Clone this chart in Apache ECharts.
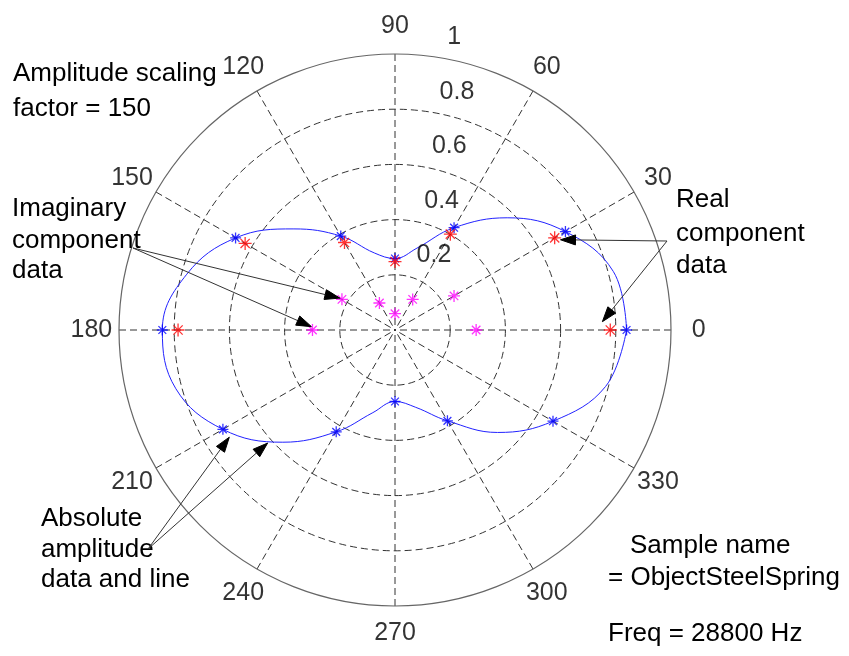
<!DOCTYPE html>
<html>
<head>
<meta charset="utf-8">
<script src="https://cdn.jsdelivr.net/npm/echarts@6/dist/echarts.min.js"></script>
<style>
  html, body { margin: 0; padding: 0; background: #ffffff; }
  #chart { width: 849px; height: 656px; }
</style>
</head>
<body>
<div id="chart"></div>
<script>
// Angles (degrees) at which the amplitude was sampled
const markerAngles = [0, 30, 60, 90, 120, 150, 180, 210, 240, 270, 300, 330];
// Absolute amplitude at each sampled angle
const absValues = [0.839, 0.713, 0.428, 0.259, 0.393, 0.667, 0.843, 0.720, 0.426, 0.259, 0.380, 0.661];
// Real component (upper half only)
const realAngles = [0, 30, 60, 90, 120, 150, 180];
const realValues = [0.780, 0.668, 0.401, 0.248, 0.366, 0.627, 0.786];
// Imaginary component (upper half only)
const imagAngles = [0, 30, 60, 90, 120, 150, 180];
const imagValues = [0.294, 0.247, 0.128, 0.059, 0.113, 0.222, 0.299];
// Fitted amplitude line
const curveAngles = [0, 15, 30, 45, 60, 75, 90, 105, 120, 135, 150, 165, 180,
                     195, 210, 225, 240, 255, 270, 285, 300, 315, 330, 345, 360];
const curveValues = [0.839, 0.819, 0.713, 0.575, 0.428, 0.307, 0.259, 0.289, 0.393, 0.518, 0.667, 0.781, 0.843,
                     0.822, 0.720, 0.575, 0.426, 0.310, 0.259, 0.290, 0.380, 0.525, 0.661, 0.790, 0.839];
// Grid tick labels
const ringTicks = [0.2, 0.4, 0.6, 0.8, 1];
const angleTicks = [0, 30, 60, 90, 120, 150, 180, 210, 240, 270, 300, 330];

const FONT = "'Liberation Sans', Arial, Helvetica, sans-serif";
const FS = 25;
const NOTE_FS = 26;
const ASTERISK = 'path://M5,0L5,10M0,5L10,5M1.46,1.46L8.54,8.54M1.46,8.54L8.54,1.46';

const pairs = (rs, as) => rs.map((r, i) => [r, as[i]]);

function starSeries(name, rs, as, color, size) {
  return {
    name: name,
    type: 'scatter',
    coordinateSystem: 'polar',
    symbol: ASTERISK,
    symbolSize: size,
    itemStyle: { color: color, borderColor: color, borderWidth: 1.3 },
    data: pairs(rs, as),
    z: 4
  };
}

const chart = echarts.init(document.getElementById('chart'), null, { renderer: 'canvas' });

const option = {
  animation: false,
  backgroundColor: '#ffffff',
  polar: { center: [395, 330], radius: 276 },
  angleAxis: {
    type: 'value', min: 0, max: 360, interval: 30,
    startAngle: 0, clockwise: false,
    axisLine: { show: true, lineStyle: { color: '#666666', width: 1.2 } },
    axisTick: { show: false },
    axisLabel: { show: false },
    splitLine: { show: true, lineStyle: { color: '#333333', width: 1, type: [7, 4] } }
  },
  radiusAxis: {
    type: 'value', min: 0, max: 1, interval: 0.2,
    axisLine: { show: false },
    axisTick: { show: false },
    axisLabel: { show: false },
    splitLine: {
      show: true,
      lineStyle: {
        color: ['#333333', '#333333', '#333333', '#333333', '#333333', 'rgba(0,0,0,0)'],
        width: 1, type: [7, 4]
      }
    }
  },
  series: [
    {
      name: 'amplitude line',
      type: 'line',
      coordinateSystem: 'polar',
      data: pairs(curveValues, curveAngles),
      showSymbol: false,
      smooth: 0.4,
      lineStyle: { color: '#2222ff', width: 1 },
      z: 3
    },
    starSeries('absolute', absValues, markerAngles, '#0000ff', 11),
    starSeries('real', realValues, realAngles, '#ff0000', 13),
    starSeries('imaginary', imagValues, imagAngles, '#ff00ff', 12),
    {
      name: 'angle labels',
      type: 'scatter',
      coordinateSystem: 'polar',
      clip: false,
      silent: true,
      symbolSize: 1,
      itemStyle: { color: 'rgba(0,0,0,0)' },
      data: angleTicks.map(a => [1.1, a]),
      label: {
        show: true, position: 'inside', align: 'center', verticalAlign: 'middle',
        color: '#000', fontFamily: FONT, fontSize: FS,
        formatter: p => String(p.value[1])
      },
      z: 5
    },
    {
      name: 'ring labels',
      type: 'scatter',
      coordinateSystem: 'polar',
      clip: false,
      silent: true,
      symbolSize: 1,
      itemStyle: { color: 'rgba(0,0,0,0)' },
      data: ringTicks.map(r => [r + 0.01, 82]),
      label: {
        show: true, position: [14, -4], align: 'left', verticalAlign: 'bottom',
        color: '#000', fontFamily: FONT, fontSize: FS,
        formatter: p => String(Math.round((p.value[0] - 0.01) * 10) / 10)
      },
      z: 5
    }
  ]
};
chart.setOption(option);

// Annotation texts (left edge x, vertical middle y)
const notes = [
  ['Amplitude scaling', 13, 74],
  ['factor = 150', 13, 109],
  ['Imaginary', 12, 209],
  ['component', 12, 241],
  ['data', 12, 271],
  ['Real', 676, 200],
  ['component', 676, 234],
  ['data', 676, 266],
  ['Absolute', 41, 519],
  ['amplitude', 41, 550],
  ['data and line', 41, 580],
  ['Sample name', 630, 546],
  ['= ObjectSteelSpring', 608, 578],
  ['Freq = 28800 Hz', 608, 634]
];

// Callout arrows: tail in pixels beside the text, tip at a polar [r, angle] position
const arrows = [
  { tail: [133, 248], tip: [0.231, 150] },
  { tail: [133, 248], tip: [0.303, 177.7] },
  { tail: [667, 241], tip: [0.683, 28.6] },
  { tail: [667, 241], tip: [0.752, 2.3] },
  { tail: [148, 549], tip: [0.715, 212.9] },
  { tail: [148, 549], tip: [0.617, 221.6] }
];

const graphics = notes.map(n => ({
  type: 'text', x: n[1], y: n[2], z: 10, silent: true,
  style: { text: n[0], fill: '#000', font: NOTE_FS + 'px ' + FONT, textAlign: 'left', textVerticalAlign: 'middle', verticalAlign: 'middle' }
}));

arrows.forEach(a => {
  const tip = chart.convertToPixel({ seriesIndex: 1 }, a.tip);
  const tx = a.tail[0], ty = a.tail[1];
  const dx = tip[0] - tx, dy = tip[1] - ty;
  const len = Math.sqrt(dx * dx + dy * dy);
  const ux = dx / len, uy = dy / len;
  const headLen = 15, headHalf = 5;
  const bx = tip[0] - ux * headLen, by = tip[1] - uy * headLen;
  graphics.push({
    type: 'line', z: 10, silent: true,
    shape: { x1: tx, y1: ty, x2: bx, y2: by },
    style: { stroke: '#333333', lineWidth: 1 }
  });
  graphics.push({
    type: 'polygon', z: 10, silent: true,
    shape: { points: [[tip[0], tip[1]], [bx - uy * headHalf, by + ux * headHalf], [bx + uy * headHalf, by - ux * headHalf]] },
    style: { fill: '#000000', stroke: '#000000', lineWidth: 1 }
  });
});

chart.setOption({ graphic: graphics });
</script>
</body>
</html>
